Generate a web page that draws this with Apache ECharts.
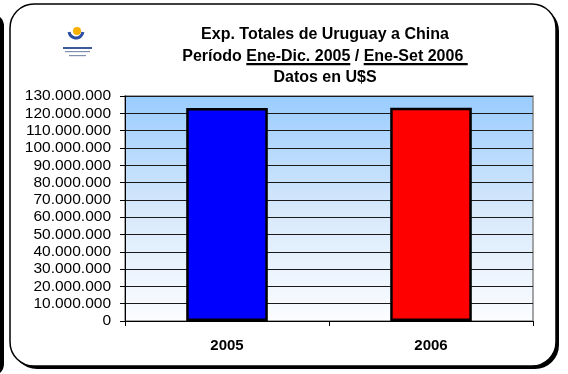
<!DOCTYPE html>
<html>
<head>
<meta charset="utf-8">
<script src="https://cdn.jsdelivr.net/npm/echarts@6/dist/echarts.min.js"></script>
<style>
html,body{margin:0;padding:0;background:#fff;}
#c{width:568px;height:374px;}
</style>
</head>
<body>
<div id="c"></div>
<script>
const categories = ['2005', '2006'];
const exportValues = [123000000, 123200000];
const barColors = ['#0000FF', '#FF0000'];
const yMin = 0, yMax = 130000000, yStep = 10000000;
const titleLines = ['Exp. Totales de Uruguay a China', 'Período ', 'Ene-Dic. 2005', ' / ', 'Ene-Set 2006 ', 'Datos en U$S'];

const FONT = '"Liberation Sans", Arial, sans-serif';
function fmt(v) { return String(v).replace(/\B(?=(\d{3})+(?!\d))/g, '.'); }

const underlineBg = {
  type: 'linear', x: 0, y: 0, x2: 0, y2: 1,
  colorStops: [
    { offset: 0, color: 'rgba(0,0,0,0)' },
    { offset: 0.9, color: 'rgba(0,0,0,0)' },
    { offset: 0.9, color: '#000' },
    { offset: 1, color: '#000' }
  ]
};

const chart = echarts.init(document.getElementById('c'), null, { renderer: 'canvas' });
chart.setOption({
  backgroundColor: '#ffffff',
  animation: false,
  title: {
    left: 320, top: 19, textAlign: 'center',
    text: titleLines[0] + '\n' + titleLines[1] + '{u|' + titleLines[2] + '}' + titleLines[3] + '{u|' + titleLines[4] + '}' + '\n' + titleLines[5],
    textStyle: {
      fontFamily: FONT, fontSize: 16, fontWeight: 'bold', color: '#000', lineHeight: 21.5,
      rich: {
        u: { fontFamily: FONT, fontSize: 16, fontWeight: 'bold', color: '#000', lineHeight: 18, height: 18, backgroundColor: underlineBg }
      }
    }
  },
  graphic: [
    { type: 'rect', z: -10, shape: { x: -40, y: 14, width: 44, height: 362, r: 12 }, style: { fill: '#000' } },
    { type: 'rect', z: -10, shape: { x: 13, y: 7, width: 546, height: 362, r: 24 }, style: { fill: '#000' } },
    { type: 'rect', z: -9, shape: { x: 10, y: 4, width: 546, height: 362, r: 24 }, style: { fill: '#fff', stroke: '#000', lineWidth: 1.5 } },
    { type: 'circle', z: 5, shape: { cx: 77, cy: 31, r: 4 }, style: { fill: '#F5B000' } },
    { type: 'arc', z: 6, shape: { cx: 76, cy: 31, r: 7, startAngle: 0.05 * Math.PI, endAngle: 0.95 * Math.PI, clockwise: true }, style: { stroke: '#2a4fa0', lineWidth: 3, fill: null } },
    { type: 'rect', z: 5, shape: { x: 63, y: 47, width: 29, height: 2 }, style: { fill: '#3a5a9a' } },
    { type: 'rect', z: 5, shape: { x: 65, y: 51, width: 25, height: 1.2 }, style: { fill: '#8090b0' } },
    { type: 'rect', z: 5, shape: { x: 69, y: 55, width: 17, height: 1.2 }, style: { fill: '#8090b0' } }
  ],
  grid: {
    left: 125, right: 35, top: 96, bottom: 53,
    show: true,
    backgroundColor: {
      type: 'linear', x: 0, y: 0, x2: 0, y2: 1,
      colorStops: [
        { offset: 0, color: '#99CCFF' },
        { offset: 0.5, color: '#D6E8FB' },
        { offset: 1, color: '#FCFDFF' }
      ]
    },
    borderColor: '#888888',
    borderWidth: 1.5
  },
  xAxis: {
    type: 'category',
    data: categories,
    axisLine: { lineStyle: { color: '#000', width: 1 } },
    axisTick: { show: true, alignWithLabel: false, length: 5, lineStyle: { color: '#000' } },
    axisLabel: { fontFamily: FONT, fontSize: 15, fontWeight: 'bold', color: '#000', margin: 17 },
    splitLine: { show: false }
  },
  yAxis: {
    type: 'value',
    min: yMin, max: yMax, interval: yStep,
    axisLine: { show: true, lineStyle: { color: '#000', width: 1 } },
    axisTick: { show: true, length: 5, lineStyle: { color: '#000' } },
    axisLabel: { fontFamily: FONT, fontSize: 15.5, color: '#000', margin: 14, formatter: fmt },
    splitLine: { show: true, lineStyle: { color: '#1a1a1a', width: 1 } }
  },
  series: [{
    type: 'bar',
    barWidth: '40%',
    data: exportValues.map((v, i) => ({
      value: v,
      itemStyle: { color: barColors[i], borderColor: '#000', borderWidth: 2.5 }
    }))
  }]
});
</script>
</body>
</html>
